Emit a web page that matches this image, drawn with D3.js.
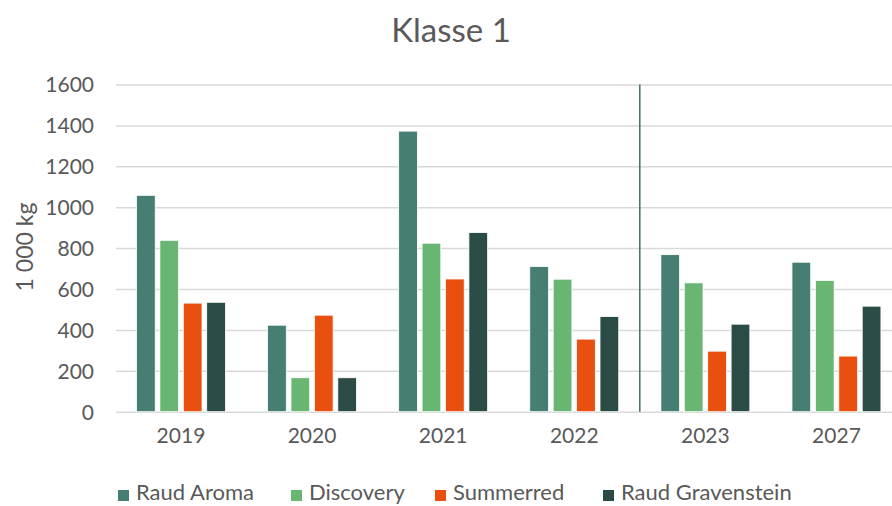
<!DOCTYPE html>
<html>
<head>
<meta charset="utf-8">
<script src="https://cdn.jsdelivr.net/npm/d3@7"></script>
<style>
  html, body { margin: 0; padding: 0; background: #fff; }
  svg { display: block; }
  text { font-family: Lato, "Open Sans", sans-serif; fill: #595959; }
</style>
</head>
<body>
<svg id="chart" width="892" height="506"></svg>
<script>
const categories = ["2019", "2020", "2021", "2022", "2023", "2027"];
const seriesNames = ["Raud Aroma", "Discovery", "Summerred", "Raud Gravenstein"];
const raudAroma = [1058, 423, 1372, 710, 768, 731];
const discovery = [838, 166, 824, 648, 630, 642];
const summerred = [531, 472, 649, 355, 296, 272];
const raudGravenstein = [535, 166, 876, 465, 428, 516];
const yTicks = [0, 200, 400, 600, 800, 1000, 1200, 1400, 1600];
const colors = ["#467E73", "#69B572", "#E94F0F", "#2B4B47"];
const dividerAfter = "2022";

const seriesValues = [raudAroma, discovery, summerred, raudGravenstein];
const svg = d3.select("#chart");
const W = 892, H = 506;

const x0 = d3.scaleBand().domain(categories).range([115.4, 902]).paddingInner(0).paddingOuter(0);
const x1 = d3.scaleBand().domain(seriesNames).range([0, x0.bandwidth()]).paddingInner(0.2).paddingOuter(0.9);
const y = d3.scaleLinear().domain([0, 1600]).range([411.7, 84.5]);

// title
svg.append("text").attr("x", 451).attr("y", 42).attr("text-anchor", "middle")
  .style("font-size", "33px").text("Klasse 1");

// gridlines
const yAxis = d3.axisLeft(y).tickValues(yTicks).tickSize(-(W - 116)).tickPadding(22).tickFormat(d3.format("d"));
const gy = svg.append("g").attr("transform", "translate(116,0)").call(yAxis);
gy.select(".domain").remove();
gy.selectAll(".tick line").attr("stroke", "#D9D9D9").attr("stroke-width", 1.5);
gy.selectAll(".tick text").style("font-size", "21px").attr("fill", "#595959").attr("dy", "0.35em");

// y label
svg.append("text").attr("transform", "translate(33,247) rotate(-90)").attr("text-anchor", "middle")
  .style("font-size", "23px").text("1 000 kg");

// bars
const data = categories.map((c, i) => ({ cat: c, vals: seriesNames.map((s, j) => ({ s, j, v: seriesValues[j][i] })) }));
const groups = svg.append("g").selectAll("g").data(data).join("g")
  .attr("transform", d => `translate(${x0(d.cat)},0)`);
groups.selectAll("rect").data(d => d.vals).join("rect")
  .attr("x", d => x1(d.s)).attr("width", x1.bandwidth())
  .attr("y", d => y(d.v)).attr("height", d => y(0) - y(d.v))
  .attr("fill", d => colors[d.j]).attr("stroke", "#fff").attr("stroke-width", 0.8);

// divider line
const divX = x0(dividerAfter) + x0.bandwidth();
svg.append("line").attr("x1", divX).attr("x2", divX).attr("y1", y(1600)).attr("y2", y(0))
  .attr("stroke", "#3E7066").attr("stroke-width", 1.5);

// x axis labels
const xAxis = d3.axisBottom(x0).tickSize(0).tickPadding(16);
const gx = svg.append("g").attr("transform", `translate(0,${y(0)})`).call(xAxis);
gx.select(".domain").remove();
gx.selectAll(".tick text").style("font-size", "21px").attr("fill", "#595959");

// legend
const legendX = [118, 291, 435, 603];
const legend = svg.append("g").selectAll("g").data(seriesNames).join("g")
  .attr("transform", (d, i) => `translate(${legendX[i]},0)`);
legend.append("rect").attr("x", 0).attr("y", 490).attr("width", 11).attr("height", 11)
  .attr("fill", (d, i) => colors[i]);
legend.append("text").attr("x", 18).attr("y", 500).style("font-size", "22px").text(d => d);
</script>
</body>
</html>
